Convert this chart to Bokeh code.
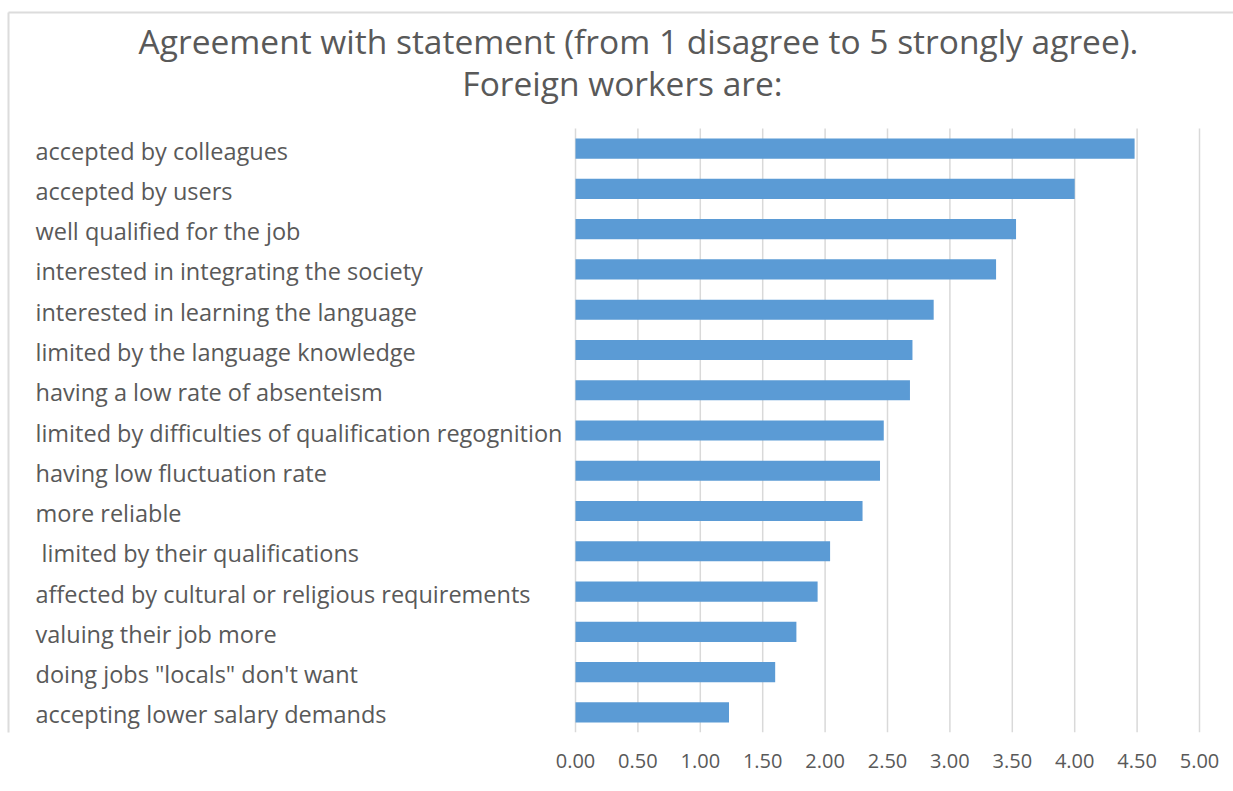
from bokeh.plotting import figure
from bokeh.models import FixedTicker, NumeralTickFormatter, Range1d, ColumnDataSource
from bokeh.core.properties import value
from bokeh.embed import file_html
from bokeh.resources import INLINE

# Statements (top to bottom) and their mean agreement scores
statements = [
    "accepted by colleagues",
    "accepted by users",
    "well qualified for the job",
    "interested in integrating the society",
    "interested in learning the language",
    "limited by the language knowledge",
    "having a low rate of absenteism",
    "limited by difficulties of qualification regognition",
    "having low fluctuation rate",
    "more reliable",
    "\u00a0limited by their qualifications",
    "affected by cultural or religious requirements",
    "valuing their job more",
    "doing jobs \"locals\" don't want",
    "accepting lower salary demands",
]
scores = [4.48, 4.00, 3.53, 3.37, 2.87, 2.70, 2.68, 2.47, 2.44, 2.30,
          2.04, 1.94, 1.77, 1.60, 1.23]
x_ticks = [0, 0.5, 1, 1.5, 2, 2.5, 3, 3.5, 4, 4.5, 5]
title_lines = ["Agreement with statement (from 1 disagree to 5 strongly agree).",
               "Foreign workers are:"]

FONT = "Open Sans"
GREY = "#595959"
BLUE = "#5B9BD5"
GRID = "#d9d9d9"

W, H = 1233, 791
BOTTOM = 59                  # room for the tick labels under the frame
FRAME_H = H - BOTTOM
X0_PX, X5_PX = 575, 1199     # pixel columns of the 0 and 5 gridlines
ROWS_TOP_PX = 128            # top of the bar area

n = len(statements)
rows = list(range(n))
x_scale = (X5_PX - X0_PX) / (x_ticks[-1] - x_ticks[0])
row_px = (FRAME_H - ROWS_TOP_PX) / n

x_start = x_ticks[0] - X0_PX / x_scale
x_end = x_ticks[0] + (W - X0_PX) / x_scale
y_top = -0.5 - ROWS_TOP_PX / row_px


def px_x(px):
    return x_start + px / x_scale


def px_y(py):
    return y_top + py / row_px


p = figure(width=W, height=H, output_backend="svg", toolbar_location=None,
           x_range=Range1d(x_start, x_end), y_range=Range1d(n - 0.5, y_top),
           min_border_left=0, min_border_right=0, min_border_top=0,
           min_border_bottom=BOTTOM)
p.outline_line_color = None
p.grid.visible = False
p.yaxis.visible = False

# vertical gridlines across the bar area
p.segment(x0=x_ticks, x1=x_ticks, y0=[-0.5] * len(x_ticks),
          y1=[n - 0.5] * len(x_ticks), line_color=GRID, line_width=1.5)

src = ColumnDataSource(dict(row=rows, score=scores, statement=statements))
p.hbar(y="row", left=0, right="score", height=0.5, source=src,
       fill_color=BLUE, line_color=None)

# statement names, left aligned
p.text(x=px_x(35), y="row", text="statement", source=src,
       text_align="left", text_baseline="middle", y_offset=2,
       text_font=value(FONT), text_font_size="23.5px", text_color=GREY)

# two-line title
p.text(x=[px_x(638), px_x(622)], y=[px_y(40), px_y(82)], text=title_lines,
       text_align="center", text_baseline="middle",
       text_font=value(FONT), text_font_size="33.5px", text_color=GREY)

# chart area edge (top and left)
p.segment(x0=[px_x(8), px_x(8)], y0=[px_y(12), px_y(12)],
          x1=[px_x(W + 5), px_x(8)], y1=[px_y(12), px_y(FRAME_H + 5)],
          line_color="#dcdcdc", line_width=2)

# value axis: tick labels only
p.xaxis.ticker = FixedTicker(ticks=x_ticks)
p.xaxis.formatter = NumeralTickFormatter(format="0.00")
p.xaxis.axis_line_color = None
p.xaxis.major_tick_line_color = None
p.xaxis.minor_tick_line_color = None
p.xaxis.major_label_standoff = 15
p.xaxis.major_label_text_font = FONT
p.xaxis.major_label_text_font_size = "20px"
p.xaxis.major_label_text_color = GREY

open("out.html", "w").write(file_html(p, INLINE))
